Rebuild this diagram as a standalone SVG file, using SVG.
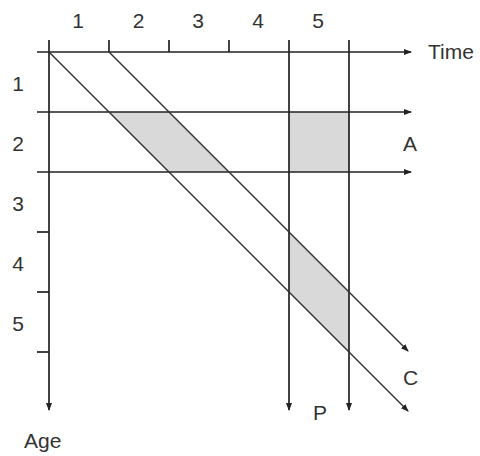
<svg xmlns="http://www.w3.org/2000/svg" width="480" height="456" viewBox="0 0 480 456">
<defs>
<marker id="arr" markerWidth="8" markerHeight="6" refX="7" refY="3" orient="auto" markerUnits="userSpaceOnUse">
<path d="M0,0 L8,3 L0,6 Z" fill="#222"/>
</marker>
<style>
.ax{stroke:#222;stroke-width:1.7;fill:none}
.dg{stroke:#333;stroke-width:1.4;fill:none}
.sh{fill:#d9d9d9;stroke:none}
.t{font-family:"Liberation Sans",Arial,sans-serif;font-size:21px;fill:#333}
</style>
</defs>
<rect width="480" height="456" fill="#fff"/>
<g id="shading">
<polygon class="sh" points="109,112 169,112 229,172 169,172"/>
<rect class="sh" x="289" y="112" width="60" height="60"/>
<polygon class="sh" points="289,232 349,292 349,352 289,292"/>
</g>
<g id="connectors">
<line class="ax" x1="37" y1="52" x2="411" y2="52" marker-end="url(#arr)"/>
<line class="ax" x1="37" y1="112" x2="411" y2="112" marker-end="url(#arr)"/>
<line class="ax" x1="37" y1="172" x2="411" y2="172" marker-end="url(#arr)"/>
<line class="ax" x1="49" y1="40" x2="49" y2="410" marker-end="url(#arr)"/>
<line class="ax" x1="289" y1="40" x2="289" y2="410" marker-end="url(#arr)"/>
<line class="ax" x1="349" y1="40" x2="349" y2="410" marker-end="url(#arr)"/>
<line class="ax" x1="109" y1="40" x2="109" y2="52"/>
<line class="ax" x1="169" y1="40" x2="169" y2="52"/>
<line class="ax" x1="229" y1="40" x2="229" y2="52"/>
<line class="ax" x1="37" y1="232" x2="49" y2="232"/>
<line class="ax" x1="37" y1="292" x2="49" y2="292"/>
<line class="ax" x1="37" y1="352" x2="49" y2="352"/>
<line class="dg" x1="49" y1="52" x2="408" y2="411" marker-end="url(#arr)"/>
<line class="dg" x1="109" y1="52" x2="408" y2="351" marker-end="url(#arr)"/>
</g>
<g id="labels">
<text class="t" x="78" y="28" text-anchor="middle">1</text>
<text class="t" x="138.5" y="28" text-anchor="middle">2</text>
<text class="t" x="198" y="28" text-anchor="middle">3</text>
<text class="t" x="258" y="28" text-anchor="middle">4</text>
<text class="t" x="318" y="28" text-anchor="middle">5</text>
<text class="t" x="18" y="91" text-anchor="middle">1</text>
<text class="t" x="18" y="151" text-anchor="middle">2</text>
<text class="t" x="18" y="211" text-anchor="middle">3</text>
<text class="t" x="18" y="271" text-anchor="middle">4</text>
<text class="t" x="18" y="331" text-anchor="middle">5</text>
<text class="t" x="428" y="59">Time</text>
<text class="t" x="403" y="151">A</text>
<text class="t" x="403" y="385">C</text>
<text class="t" x="313" y="420">P</text>
<text class="t" x="24" y="448">Age</text>
</g>
</svg>
